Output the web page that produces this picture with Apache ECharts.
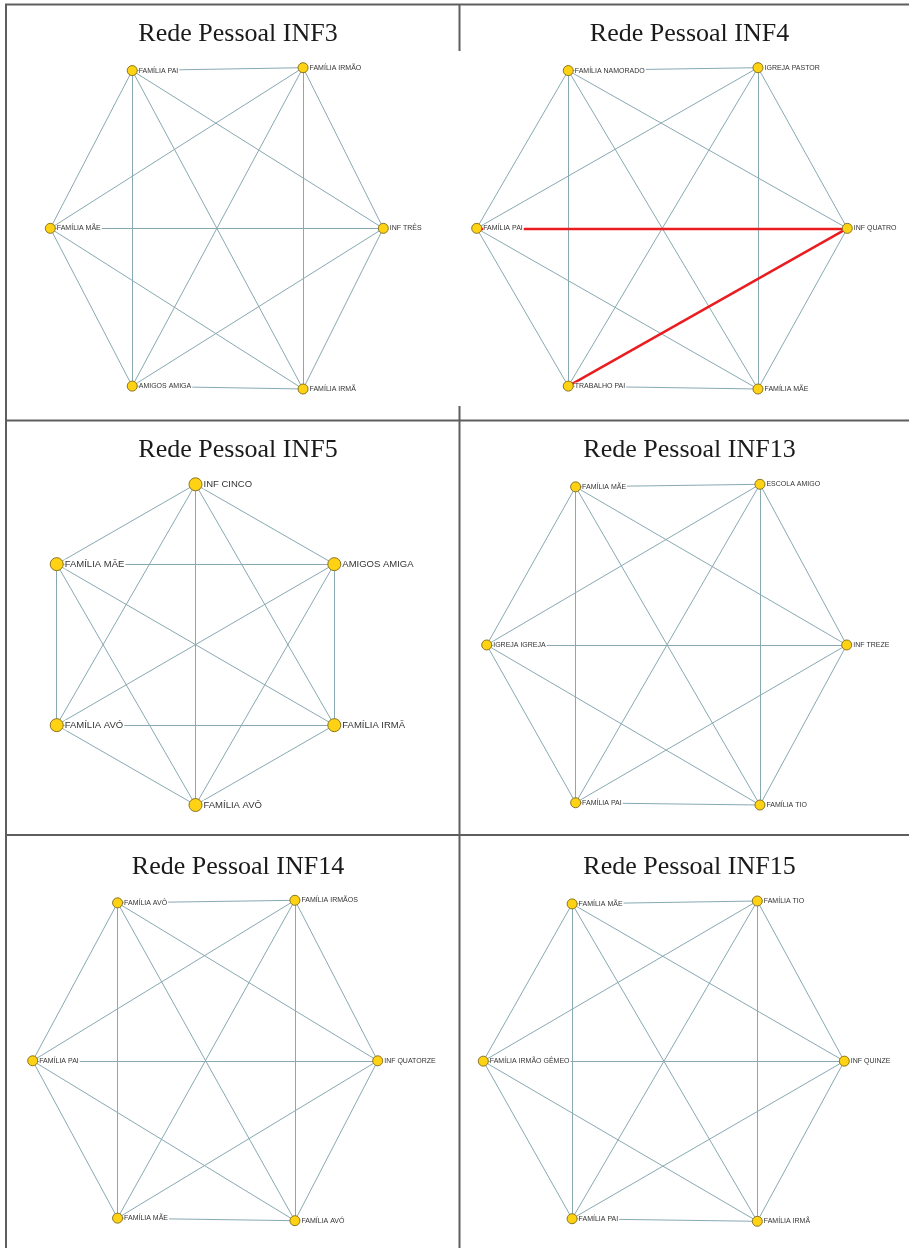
<!DOCTYPE html>
<html><head><meta charset="utf-8">
<script src="https://cdn.jsdelivr.net/npm/echarts@6/dist/echarts.min.js"></script>
<style>html,body{margin:0;padding:0;background:#fff}#c{width:909px;height:1248px}</style>
</head><body><div id="c"></div>
<script>
// ---- data ----
const titles = ['Rede Pessoal INF3','Rede Pessoal INF4','Rede Pessoal INF5','Rede Pessoal INF13','Rede Pessoal INF14','Rede Pessoal INF15'];

const inf3Nodes = ['FAMÍLIA PAI','FAMÍLIA IRMÃO','FAMÍLIA MÃE','INF TRÊS','AMIGOS AMIGA','FAMÍLIA IRMÃ'];
const inf3X = [24.6, 75.9, 0, 100, 24.6, 75.9];
const inf3Y = [0.9, 0, 50, 50, 99.1, 100];

const inf4Nodes = ['FAMÍLIA NAMORADO','IGREJA PASTOR','FAMÍLIA PAI','INF QUATRO','TRABALHO PAI','FAMÍLIA MÃE'];
const inf4X = [24.7, 75.9, 0, 100, 24.7, 75.9];
const inf4Y = [0.9, 0, 50, 50, 99.1, 100];

const inf5Nodes = ['INF CINCO','FAMÍLIA MÃE','AMIGOS AMIGA','FAMÍLIA AVÓ','FAMÍLIA IRMÃ','FAMÍLIA AVÔ'];
const inf5X = [50, 0, 100, 0, 100, 50];
const inf5Y = [0, 24.9, 24.9, 75.1, 75.1, 100];

const inf13Nodes = ['FAMÍLIA MÃE','ESCOLA AMIGO','IGREJA IGREJA','INF TREZE','FAMÍLIA PAI','FAMÍLIA TIO'];
const inf13X = [24.7, 75.9, 0, 100, 24.7, 75.9];
const inf13Y = [0.8, 0, 50.1, 50.1, 99.3, 100];

const inf14Nodes = ['FAMÍLIA AVÔ','FAMÍLIA IRMÃOS','FAMÍLIA PAI','INF QUATORZE','FAMÍLIA MÃE','FAMÍLIA AVÓ'];
const inf14X = [24.6, 76.0, 0, 100, 24.6, 76.0];
const inf14Y = [0.8, 0, 50.1, 50.1, 99.2, 100];

const inf15Nodes = ['FAMÍLIA MÃE','FAMÍLIA TIO','FAMÍLIA IRMÃO GÊMEO','INF QUINZE','FAMÍLIA PAI','FAMÍLIA IRMÃ'];
const inf15X = [24.6, 75.9, 0, 100, 24.6, 75.9];
const inf15Y = [0.9, 0, 50, 50, 99.2, 100];

// every network is fully connected (15 ties among 6 actors)
const ties = [[0,1],[0,2],[0,3],[0,4],[0,5],[1,2],[1,3],[1,4],[1,5],[2,3],[2,4],[2,5],[3,4],[3,5],[4,5]];
// ties highlighted in red in INF4
const inf4Red = [[2,3],[4,3]];

// ---- layout / style ----
const networks = [
  {nodes: inf3Nodes, x: inf3X, y: inf3Y, red: []},
  {nodes: inf4Nodes, x: inf4X, y: inf4Y, red: inf4Red},
  {nodes: inf5Nodes, x: inf5X, y: inf5Y, red: []},
  {nodes: inf13Nodes, x: inf13X, y: inf13Y, red: []},
  {nodes: inf14Nodes, x: inf14X, y: inf14Y, red: []},
  {nodes: inf15Nodes, x: inf15X, y: inf15Y, red: []}
];
const boxes = [
  {left: 50.3, top: 67.7, width: 333, height: 321.3, sym: 10, fs: 7},
  {left: 476.7, top: 67.7, width: 370.6, height: 321.3, sym: 10, fs: 7},
  {left: 56.7, top: 484.3, width: 277.6, height: 320.7, sym: 13, fs: 9.5},
  {left: 486.7, top: 484.3, width: 360, height: 320.7, sym: 10, fs: 7},
  {left: 32.7, top: 900.3, width: 345, height: 320.4, sym: 10, fs: 7},
  {left: 483.3, top: 901, width: 361, height: 320.3, sym: 10, fs: 7}
];
const titlePos = [[233, 16],[684.5, 16],[233, 432],[684.5, 432],[233, 849],[684.5, 849]];
const edgeColor = '#88a9b2';
const borderColor = '#5e5e5e';

const chart = echarts.init(document.getElementById('c'), null, {renderer: 'canvas'});

const grid = [], xAxis = [], yAxis = [], series = [], title = [];
networks.forEach((net, i) => {
  const b = boxes[i];
  grid.push({left: b.left, top: b.top, width: b.width, height: b.height, show: false});
  xAxis.push({type: 'value', gridIndex: i, min: 0, max: 100, show: false});
  yAxis.push({type: 'value', gridIndex: i, min: 0, max: 100, inverse: true, show: false});
  title.push({
    text: titles[i], left: titlePos[i][0], top: titlePos[i][1], textAlign: 'center',
    textStyle: {fontFamily: '"Liberation Serif","Times New Roman",serif', fontSize: 26, fontWeight: 'normal', color: '#1a1a1a'}
  });
  const isRed = (a, c) => net.red.some(r => (r[0] === a && r[1] === c) || (r[0] === c && r[1] === a));
  const links = ties.map(t => {
    const red = isRed(t[0], t[1]);
    return {
      source: t[0], target: t[1],
      lineStyle: red ? {color: '#ea1c1f', width: 2.4, opacity: 1} : {color: edgeColor, width: 1, opacity: 1}
    };
  });
  // draw red ties last so they sit on top
  links.sort((a, c) => (a.lineStyle.width > 1) - (c.lineStyle.width > 1));
  series.push({
    type: 'graph', layout: 'none', coordinateSystem: 'cartesian2d',
    xAxisIndex: i, yAxisIndex: i,
    symbol: 'circle', symbolSize: b.sym,
    itemStyle: {color: '#ffd313', borderColor: '#8a7420', borderWidth: 1},
    label: {
      show: true, position: 'right', distance: 1,
      fontFamily: '"Liberation Sans",Arial,sans-serif', fontSize: b.fs, color: '#333333',
      backgroundColor: '#fff', padding: [0, 1, 0, 0]
    },
    emphasis: {disabled: true},
    silent: true, animation: false,
    data: net.nodes.map((n, k) => ({name: n, value: [net.x[k], net.y[k]]})),
    links: links
  });
});

const line = (x1, y1, x2, y2) => ({type: 'line', shape: {x1, y1, x2, y2}, style: {stroke: borderColor, lineWidth: 2}, silent: true});
const graphic = [
  line(5, 4.5, 909, 4.5),
  line(6, 4, 6, 1248),
  line(459.5, 4, 459.5, 51),
  line(459.5, 406, 459.5, 1248),
  line(5, 420.5, 909, 420.5),
  line(5, 835, 909, 835)
];

chart.setOption({animation: false, backgroundColor: '#fff', title, grid, xAxis, yAxis, series, graphic});
</script>
</body></html>
